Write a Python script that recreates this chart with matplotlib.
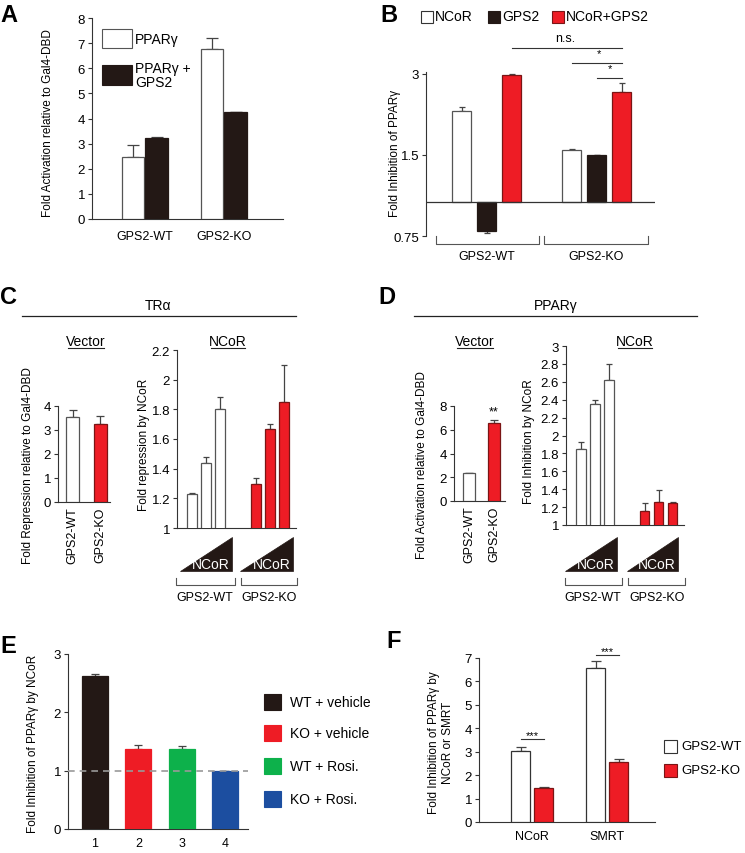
import numpy as np
import matplotlib
matplotlib.use('Agg')
import matplotlib.pyplot as plt
from matplotlib.transforms import Affine2D
from matplotlib.lines import Line2D
from matplotlib.patches import Rectangle, Polygon

plt.rcParams['font.family'] = ['Liberation Sans Narrow', 'Liberation Sans', 'DejaVu Sans']
plt.rcParams['font.size'] = 10

# ---- data ----
a_groups = ['GPS2-WT', 'GPS2-KO']
a_ppar = [2.48, 6.75]
a_ppar_err = [0.45, 0.47]
a_gps2 = [3.22, 4.25]
a_gps2_err = [0.03, 0.0]

b_series = ['NCoR', 'GPS2', 'NCoR+GPS2']
b_groups = ['GPS2-WT', 'GPS2-KO']
b_ncor = [2.19, 1.56]
b_ncor_err = [0.08, 0.015]
b_gps2 = [0.785, 1.50]
b_gps2_err = [0.015, 0.0]
b_both = [2.97, 2.58]
b_both_err = [0.02, 0.19]

c_vec = [3.53, 3.25]
c_vec_err = [0.30, 0.33]
c_ncor_wt = [1.23, 1.44, 1.80]
c_ncor_wt_err = [0.005, 0.04, 0.08]
c_ncor_ko = [1.30, 1.67, 1.85]
c_ncor_ko_err = [0.035, 0.03, 0.25]

d_vec = [2.36, 6.54]
d_vec_err = [0.0, 0.30]
d_ncor_wt = [1.85, 2.35, 2.62]
d_ncor_wt_err = [0.08, 0.05, 0.18]
d_ncor_ko = [1.16, 1.26, 1.25]
d_ncor_ko_err = [0.09, 0.13, 0.01]

e_ticks = ['1', '2', '3', '4']
e_labels = ['WT + vehicle', 'KO + vehicle', 'WT + Rosi.', 'KO + Rosi.']
e_vals = [2.63, 1.38, 1.38, 0.99]
e_err = [0.03, 0.06, 0.04, 0.005]

f_groups = ['NCoR', 'SMRT']
f_wt = [3.04, 6.57]
f_wt_err = [0.17, 0.31]
f_ko = [1.44, 2.58]
f_ko_err = [0.04, 0.13]

# ---- style ----
BLACK = '#231815'
RED = '#ee1c25'
GREEN = '#0db14b'
BLUE = '#1c4ea0'
EDGE = '#555555'
ERR = '#444444'
CAT = 9      # category label size
NUM = 9.5    # numeric tick size
LAB = 8.5    # axis label size

W, H = 745, 854
fig = plt.figure(figsize=(W / 100, H / 100), dpi=100)
# pixel coordinates measured from the top-left corner
T = Affine2D().scale(1 / W, -1 / H).translate(0, 1) + fig.transFigure


def axes_px(l, t, r, b):
    return fig.add_axes([l / W, 1 - b / H, (r - l) / W, (b - t) / H])


def ftext(x, y, s, **kw):
    kw.setdefault('ha', 'center')
    kw.setdefault('va', 'center')
    return fig.text(x, y, s, transform=T, **kw)


def fline(xs, ys, color=EDGE, lw=0.8, **kw):
    fig.add_artist(Line2D(xs, ys, transform=T, color=color, lw=lw, **kw))


def frect(x, y, w, h, fc, ec):
    fig.add_artist(Rectangle((x, y), w, h, transform=T, fc=fc, ec=ec, lw=0.8))


def style(ax, bottom=True):
    for s in ['top', 'right']:
        ax.spines[s].set_visible(False)
    ax.spines['left'].set_color('#333333')
    ax.spines['bottom'].set_color('#333333')
    ax.spines['bottom'].set_visible(bottom)
    ax.tick_params(axis='y', direction='out', length=3, width=0.8, color='#333333', labelsize=NUM, pad=2)
    ax.tick_params(axis='x', length=0, labelsize=CAT)


def ylabel(ax, s, x, y, size=LAB):
    ax.set_ylabel(s, fontsize=size)
    ax.yaxis.set_label_coords(x, y, transform=T)
    ax.yaxis.label.set_verticalalignment('center')


def bars(ax, x, vals, errs, width, fc, ec, capsize=3, bottom=0):
    vals = np.asarray(vals, float)
    errs = np.asarray(errs, float)
    ax.bar(x, vals - bottom, width, bottom=bottom, color=fc, edgecolor=ec, lw=0.9, zorder=3)
    up = np.where(vals >= bottom, errs, 0)
    down = np.where(vals < bottom, errs, 0)
    ax.errorbar(x, vals, yerr=[down, up], fmt='none', ecolor=ERR, elinewidth=0.9,
                capsize=capsize, capthick=0.9, zorder=2)


def bracket(x0, x1, y0=579, y1=586):
    fline([x0, x0, x1, x1], [y0, y1, y1, y0])


def wedge(x0, x1, yb=572, yt=538):
    fig.add_artist(Polygon([(x0, yb), (x1, yb), (x1, yt)], closed=True, transform=T,
                           fc=BLACK, ec=BLACK, lw=0.5))
    ftext(x1 - 2, yb - 7, 'NCoR', ha='right', color='white', fontsize=10)


def underline_title(x, y, s, half):
    ftext(x, y, s, fontsize=10)
    fline([x - half, x + half], [y + 7, y + 7], color='#222222', lw=0.8)


def letter(x, y, s):
    ftext(x, y, s, ha='left', fontsize=17, fontweight='bold', family=['Liberation Sans', 'DejaVu Sans'])


# ---------------- A ----------------
ax = axes_px(92, 19, 283, 220)
pos = np.arange(len(a_groups))
bars(ax, pos - 0.15, a_ppar, a_ppar_err, 0.29, 'white', EDGE, capsize=4.5)
bars(ax, pos + 0.15, a_gps2, a_gps2_err, 0.29, BLACK, BLACK, capsize=4.5)
ax.set_xlim(-0.67, 1.75)
ax.set_ylim(0, 8)
ax.set_yticks(range(0, 9))
ax.set_xticks(pos)
ax.set_xticklabels(a_groups)
style(ax)
ax.tick_params(axis='x', pad=8)
ylabel(ax, 'Fold Activation relative to Gal4-DBD', 48, 123)
frect(102, 30, 30, 19, 'white', EDGE)
ftext(135, 40, 'PPARγ', ha='left', fontsize=10)
frect(102, 66, 30, 20, BLACK, BLACK)
ftext(135, 76, 'PPARγ +\nGPS2', ha='left', fontsize=10, linespacing=1.0)
letter(0, 15, 'A')

# ---------------- B ----------------
ax = axes_px(426, 35, 655, 237)
ax.set_yscale('log', base=2)
gpos = np.arange(len(b_groups)) * 4.4
bars(ax, gpos + 0, b_ncor, b_ncor_err, 0.76, 'white', EDGE, capsize=2, bottom=1)
bars(ax, gpos + 1, b_gps2, b_gps2_err, 0.76, BLACK, BLACK, capsize=2, bottom=1)
bars(ax, gpos + 2, b_both, b_both_err, 0.76, RED, '#7a1515', capsize=2, bottom=1)
ax.set_xlim(-1.42, 7.74)
ax.set_ylim(0.75, 0.75 * 2 ** (202 / 81))
ax.set_yticks([0.75, 1.5, 3])
ax.set_yticklabels(['0.75', '1.5', '3'])
ax.yaxis.set_minor_locator(matplotlib.ticker.NullLocator())
ax.set_xticks([])
style(ax, bottom=False)
ax.spines['left'].set_bounds(0.75, 3.05)
ax.axhline(1, color='#333333', lw=0.9, zorder=4)
ylabel(ax, 'Fold Inhibition of PPARγ', 395, 153)
# significance
sig = [(2, 6.4, 3.74, 'n.s.', 4.14), (4.4, 6.4, 3.30, '*', 5.5), (5.4, 6.4, 2.90, '*', 5.95)]
for x0, x1, yv, s, xt in sig:
    ax.plot([x0, x1], [yv, yv], color='#333333', lw=0.8, clip_on=False)
    ax.text(xt, yv * 1.04, s, ha='center', va='bottom', fontsize=9 if s == 'n.s.' else 8)
bracket(436, 539, 237, 245)
bracket(544, 648, 237, 245)
ftext(487, 257, b_groups[0], fontsize=CAT)
ftext(596, 257, b_groups[1], fontsize=CAT)
for (x, fc, ec), s in zip([(421, 'white', '#333333'), (488, BLACK, BLACK), (552, RED, '#7a1515')], b_series):
    frect(x, 12, 12, 12, fc, ec)
    ftext(x + 14, 17, s, ha='left', fontsize=10)
letter(380, 15, 'B')

# ---------------- C ----------------
letter(0, 298, 'C')
ftext(158, 306, 'TRα', fontsize=10)
fline([22, 296], [317, 317], color='#222222', lw=0.9)

ax = axes_px(58, 407, 110, 503)
pos = np.arange(2)
bars(ax, pos[:1], c_vec[:1], c_vec_err[:1], 0.47, 'white', EDGE, capsize=3)
bars(ax, pos[1:], c_vec[1:], c_vec_err[1:], 0.47, RED, '#7a1515', capsize=3)
ax.set_xlim(-0.53, 1.36)
ax.set_ylim(0, 4)
ax.set_yticks(range(0, 5))
ax.set_xticks(pos)
ax.set_xticklabels(a_groups, rotation=90)
style(ax)
ax.tick_params(axis='x', pad=3)
ylabel(ax, 'Fold Repression relative to Gal4-DBD', 28, 466)
underline_title(86, 342, 'Vector', 18)

ax = axes_px(177, 351, 296, 529)
k = np.arange(3)
bars(ax, k, c_ncor_wt, c_ncor_wt_err, 0.66, 'white', EDGE, capsize=2)
bars(ax, k + 4.57, c_ncor_ko, c_ncor_ko_err, 0.66, RED, '#7a1515', capsize=2)
ax.set_xlim(-1.07, 7.43)
ax.set_ylim(1, 2.2)
ax.set_yticks(np.arange(1, 2.21, 0.2))
ax.set_yticklabels(['1', '1.2', '1.4', '1.6', '1.8', '2', '2.2'])
ax.set_xticks([])
style(ax)
ylabel(ax, 'Fold repression by NCoR', 144, 445)
underline_title(228, 342, 'NCoR', 17)
wedge(180, 232)
wedge(240, 293)
bracket(176, 235)
bracket(241, 297)
ftext(205, 598, 'GPS2-WT', fontsize=CAT)
ftext(269, 598, 'GPS2-KO', fontsize=CAT)

# ---------------- D ----------------
letter(378, 298, 'D')
ftext(556, 306, 'PPARγ', fontsize=10)
fline([414, 697], [317, 317], color='#222222', lw=0.9)

ax = axes_px(454, 407, 505, 502)
bars(ax, pos[:1], d_vec[:1], d_vec_err[:1], 0.48, 'white', EDGE, capsize=3)
bars(ax, pos[1:], d_vec[1:], d_vec_err[1:], 0.48, RED, '#7a1515', capsize=3)
ax.text(1, d_vec[1] + d_vec_err[1] + 0.2, '**', ha='center', va='bottom', fontsize=9)
ax.set_xlim(-0.6, 1.44)
ax.set_ylim(0, 8)
ax.set_yticks(range(0, 9, 2))
ax.set_xticks(pos)
ax.set_xticklabels(a_groups, rotation=90)
style(ax)
ax.tick_params(axis='x', pad=3)
ylabel(ax, 'Fold Activation relative to Gal4-DBD', 422, 465)
underline_title(475, 342, 'Vector', 18)

ax = axes_px(566, 347, 684, 526)
bars(ax, k, d_ncor_wt, d_ncor_wt_err, 0.7, 'white', EDGE, capsize=2)
bars(ax, k + 4.54, d_ncor_ko, d_ncor_ko_err, 0.7, RED, '#7a1515', capsize=2)
ax.set_xlim(-1.07, 7.36)
ax.set_ylim(1, 3)
ax.set_yticks(np.arange(1, 3.01, 0.2))
ax.set_yticklabels(['1', '1.2', '1.4', '1.6', '1.8', '2', '2.2', '2.4', '2.6', '2.8', '3'])
ax.set_xticks([])
style(ax)
ylabel(ax, 'Fold Inhibition by NCoR', 529, 442)
underline_title(635, 342, 'NCoR', 17)
wedge(565, 617)
wedge(627, 678)
bracket(565, 622)
bracket(628, 685)
ftext(593, 598, 'GPS2-WT', fontsize=CAT)
ftext(657, 598, 'GPS2-KO', fontsize=CAT)

# ---------------- E ----------------
letter(0, 647, 'E')
ax = axes_px(68, 655, 248, 830)
e_pos = np.arange(1, 5)
e_colors = [BLACK, RED, GREEN, BLUE]
for p, v, e, c in zip(e_pos, e_vals, e_err, e_colors):
    bars(ax, [p], [v], [e], 0.6, c, c, capsize=3)
ax.axhline(1, color='#999999', lw=1.2, ls=(0, (4, 3)), zorder=4)
ax.set_xlim(0.38, 4.52)
ax.set_ylim(0, 3)
ax.set_yticks(range(0, 4))
ax.set_xticks(e_pos)
ax.set_xticklabels(e_ticks, fontsize=NUM)
style(ax)
ax.tick_params(axis='x', pad=6)
ylabel(ax, 'Fold Inhibition of PPARγ by NCoR', 33, 744)
for yc, c, s in zip([703, 734, 767, 800], e_colors, e_labels):
    frect(264, yc - 8, 17, 16, c, c)
    ftext(290, yc, s, ha='left', fontsize=10)

# ---------------- F ----------------
letter(386, 642, 'F')
ax = axes_px(479, 659, 655, 823)
fpos = np.arange(len(f_groups))
bars(ax, fpos - 0.153, f_wt, f_wt_err, 0.25, 'white', '#333333', capsize=3.5)
bars(ax, fpos + 0.153, f_ko, f_ko_err, 0.25, RED, '#7a1515', capsize=3.5)
for p, yv in zip(fpos, [3.56, 7.13]):
    ax.plot([p - 0.153, p + 0.153], [yv, yv], color='#333333', lw=0.8, clip_on=False)
    ax.text(p, yv - 0.05, '***', ha='center', va='bottom', fontsize=8)
ax.set_xlim(-0.71, 1.64)
ax.set_ylim(0, 7)
ax.set_yticks(range(0, 8))
ax.set_xticks(fpos)
ax.set_xticklabels(f_groups)
style(ax)
ax.tick_params(axis='x', pad=6)
ylabel(ax, 'Fold Inhibition of PPARγ by\nNCoR or SMRT', 441, 743)
for yc, fc, ec, s in zip([747, 771], ['white', RED], ['#333333', '#7a1515'], ['GPS2-WT', 'GPS2-KO']):
    frect(664, yc - 6.5, 13, 13, fc, ec)
    ftext(681, yc, s, ha='left', fontsize=9.5)

fig.savefig('out.png', dpi=100)
